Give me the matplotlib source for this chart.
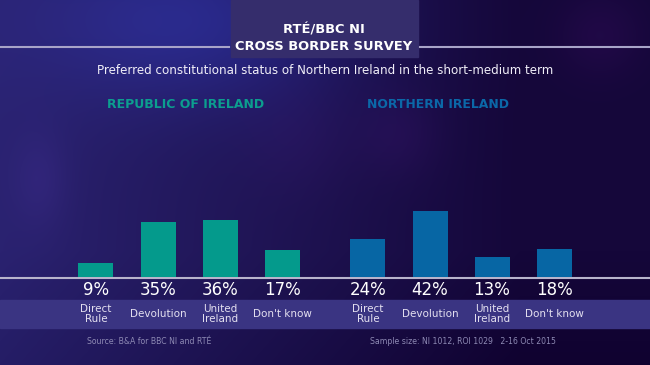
import numpy as np
import matplotlib
matplotlib.use("Agg")
import matplotlib.pyplot as plt
from matplotlib import transforms

# ---- data ----
categories = ["Direct\nRule", "Devolution", "United\nIreland", "Don't know"]
roi_values = [9, 35, 36, 17]
ni_values = [24, 42, 13, 18]
roi_title = "REPUBLIC OF IRELAND"
ni_title = "NORTHERN IRELAND"
title_lines = ["RTÉ/BBC NI", "CROSS BORDER SURVEY"]
subtitle = "Preferred constitutional status of Northern Ireland in the short-medium term"
source_text = "Source: B&A for BBC NI and RTÉ"
sample_text = "Sample size: NI 1012, ROI 1029   2-16 Oct 2015"

W, H = 650, 365
fig = plt.figure(figsize=(W / 100, H / 100), dpi=100)
plt.rcParams['font.family'] = ['DejaVu Sans']

# ---- background ----
bg = fig.add_axes([0, 0, 1, 1])
bg.set_xlim(0, W)
bg.set_ylim(H, 0)
bg.axis('off')
yy, xx = np.mgrid[0:H, 0:W]
left = np.array([0x2a, 0x22, 0x70]) / 255.0
right = np.array([0x15, 0x07, 0x3a]) / 255.0
t = np.clip(xx / W * 1.25, 0, 1)[..., None]
img = left * (1 - t) + right * t

def glow(cx, cy, rx, ry, col, strength):
    d = np.exp(-(((xx - cx) ** 2) / (2 * rx ** 2) + ((yy - cy) ** 2) / (2 * ry ** 2)))
    return d[..., None] * (np.array(col) / 255.0) * strength

img += glow(200, 20, 110, 60, (0x08, 0x12, 0x30), 1.0)
img += glow(40, 180, 20, 35, (0x14, 0x0c, 0x20), 0.4)
img += glow(400, 135, 30, 30, (0x14, 0x04, 0x18), 0.45)
img += glow(300, 140, 40, 40, (0x12, 0x04, 0x16), 0.35)
img += glow(600, 35, 30, 30, (0x16, 0x04, 0x18), 0.5)
img -= np.clip((yy - 250) / 115, 0, 1)[..., None] * np.array([0.02, 0.02, 0.04])
img = np.clip(img, 0, 1)
bg.imshow(img, extent=(0, W, H, 0), aspect='auto', zorder=0)

# title box and rule lines
bg.add_patch(plt.Rectangle((231, 0), 187, 57, color='#352d6c', zorder=1))
bg.plot([0, 229], [47, 47], color='#a8a4c8', lw=1.5, zorder=2)
bg.plot([420, W], [47, 47], color='#a8a4c8', lw=1.5, zorder=2)
# label band
bg.add_patch(plt.Rectangle((0, 300), W, 28, color='#3a3482', zorder=1))
# baseline
bg.plot([0, W], [277.5, 277.5], color='#b8b4cc', lw=1.5, zorder=3)

bg.text(324, 30, title_lines[0], color='white', fontsize=9.4, fontweight='bold',
        ha='center', va='center', zorder=4)
bg.text(324, 46, title_lines[1], color='white', fontsize=9.4, fontweight='bold',
        ha='center', va='center', zorder=4)
bg.text(325, 70, subtitle, color='#f0eef8', fontsize=8.6, ha='center', va='center', zorder=4)
bg.text(186, 105, roi_title, color='#0c9e8f', fontsize=9.0, fontweight='bold',
        ha='center', va='center', zorder=4)
bg.text(438, 105, ni_title, color='#0b68a8', fontsize=8.9, fontweight='bold',
        ha='center', va='center', zorder=4)
bg.text(87, 341, source_text, color='#8e8ab4', fontsize=5.6, ha='left', va='center', zorder=4)
bg.text(370, 341, sample_text, color='#8e8ab4', fontsize=5.6, ha='left', va='center', zorder=4)

# ---- bars ----
px_step = 62.0
x0_px = 96.0
base_px = 277.0
px_per_pct = 1.57
ax_top_px = 120.0
ax = fig.add_axes([0, 1 - base_px / H, 1, (base_px - ax_top_px) / H])
ax.set_xlim(-x0_px / px_step, (W - x0_px) / px_step)
ax.set_ylim(0, (base_px - ax_top_px) / px_per_pct)
ax.axis('off')
ax.patch.set_alpha(0)

n = len(categories)
roi_x = np.arange(n)
ni_x = np.arange(n) + n + 24 / px_step
width = 35 / px_step
ax.bar(roi_x, roi_values, width=width, color='#049a8c', zorder=3)
ax.bar(ni_x, ni_values, width=width, color='#0766a4', zorder=3)

trans = transforms.blended_transform_factory(ax.transData, fig.transFigure)
for xs, vals in ((roi_x, roi_values), (ni_x, ni_values)):
    for x, v, c in zip(xs, vals, categories):
        ax.text(x, 1 - 290 / H, f"{v}%", transform=trans, color='white',
                fontsize=12, ha='center', va='center', zorder=5)
        ax.text(x, 1 - 314 / H, c, transform=trans, color='#e4e0f0',
                fontsize=7.5, ha='center', va='center', linespacing=0.95, zorder=5)

fig.savefig("out.png", dpi=100)
